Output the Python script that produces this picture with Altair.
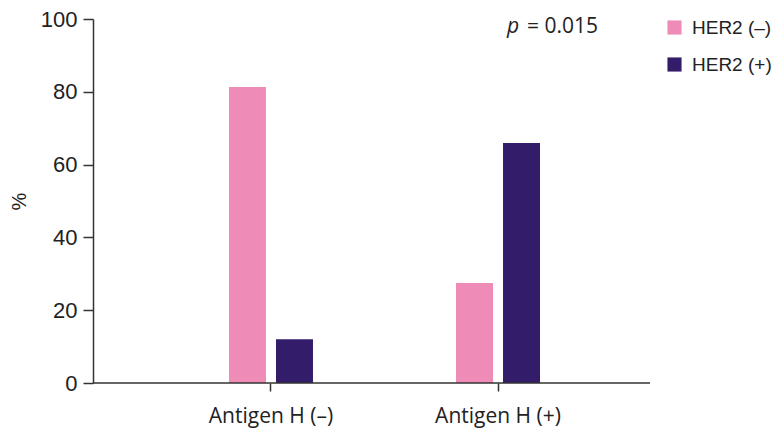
import altair as alt
import pandas as pd

antigen = ["Antigen H (–)", "Antigen H (–)", "Antigen H (+)", "Antigen H (+)"]
her2 = ["HER2 (–)", "HER2 (+)", "HER2 (–)", "HER2 (+)"]
percent = [81.3, 12.0, 27.5, 65.9]

categories = ["Antigen H (–)", "Antigen H (+)"]
series = ["HER2 (–)", "HER2 (+)"]
colors = ["#EE8CB7", "#331D6B"]

df = pd.DataFrame({"antigen": antigen, "her2": her2, "pct": percent})

W, H = 583, 364

bars = alt.Chart(df).mark_bar().encode(
    x=alt.X("antigen:N", sort=categories, title=None,
            scale=alt.Scale(paddingInner=0.63, paddingOuter=0.599),
            axis=alt.Axis(labelAngle=0, domain=False, tickSize=8, tickColor="#333333",
                          tickWidth=1.5, labelFont="Open Sans", labelFontSize=21,
                          labelColor="#222222", labelPadding=14)),
    xOffset=alt.XOffset("her2:N", sort=series,
                        scale=alt.Scale(paddingInner=0.213, paddingOuter=0)),
    y=alt.Y("pct:Q", title="%", scale=alt.Scale(domain=[0, 100], nice=False),
            axis=alt.Axis(values=[0, 20, 40, 60, 80, 100], grid=False, tickSize=10,
                          tickColor="#333333", domainColor="#333333", tickWidth=1.5,
                          domainWidth=1.5, labelFont="Liberation Sans", labelFontSize=22,
                          labelColor="#222222", labelPadding=6,
                          titleFont="Liberation Sans", titleFontSize=20,
                          titleFontWeight="normal", titleColor="#222222",
                          titlePadding=11)),
    color=alt.Color("her2:N", sort=series, scale=alt.Scale(domain=series, range=colors),
                    legend=alt.Legend(title=None, orient="none", legendX=572, legendY=-1,
                                      symbolType="square", symbolSize=200,
                                      symbolStrokeWidth=0, labelFont="Liberation Sans",
                                      labelFontSize=19, labelColor="#222222",
                                      rowPadding=17, labelOffset=8)),
)

xline = alt.Chart(pd.DataFrame({"v": [0]})).mark_rule(color="#333333", strokeWidth=1.5).encode(
    x=alt.value(0), x2=alt.value(557), y=alt.value(H)
)

pval_p = alt.Chart(pd.DataFrame({"t": ["p"]})).mark_text(
    font="Open Sans", fontSize=21, fontStyle="italic", align="left", baseline="middle",
    color="#222222"
).encode(text="t:N", x=alt.value(414), y=alt.value(8))

pval_rest = alt.Chart(pd.DataFrame({"t": ["= 0.015"]})).mark_text(
    font="Open Sans", fontSize=21, align="left", baseline="middle", color="#222222"
).encode(text="t:N", x=alt.value(434), y=alt.value(8))

chart = alt.layer(bars, xline, pval_p, pval_rest).properties(
    width=W, height=H,
    background="white",
    autosize=alt.AutoSizeParams(type="none"),
    padding={"left": 85, "top": 11, "right": 100, "bottom": 48},
).configure_view(stroke=None)

chart.save("out.html", embed_options={"renderer": "svg", "actions": False})
